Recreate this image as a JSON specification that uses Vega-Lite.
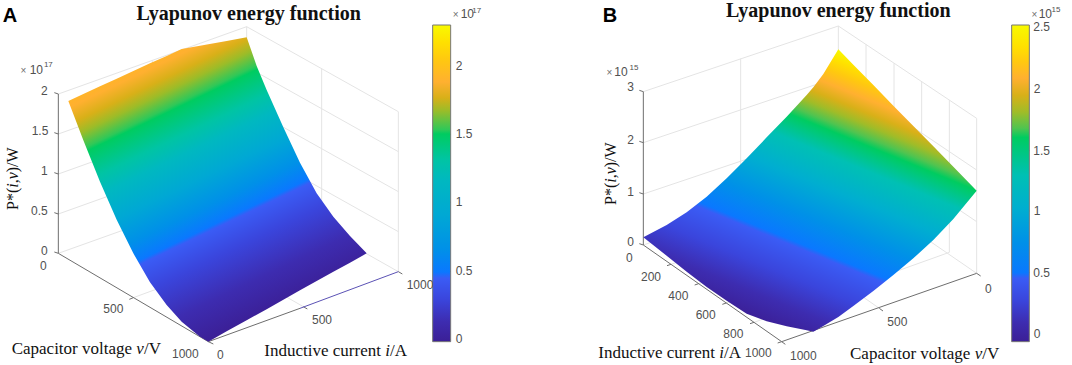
{"$schema":"https://vega.github.io/schema/vega-lite/v6.json","width":1072,"height":365,"padding":0,"autosize":{"type":"fit","contains":"padding"},"background":"white","view":{"stroke":null},
"config":{"text":{"font":"Liberation Sans"}},
"datasets":{
"grid":[
{"x":175,"y":282,"x2":740,"y2":80},{"x":175,"y":402,"x2":740,"y2":200},{"x":175,"y":522,"x2":740,"y2":320},{"x":175,"y":642,"x2":740,"y2":440},{"x":175,"y":760,"x2":740,"y2":558},
{"x":740,"y":80,"x2":1195,"y2":335},{"x":740,"y":200,"x2":1195,"y2":455},{"x":740,"y":320,"x2":1195,"y2":575},{"x":740,"y":440,"x2":1195,"y2":695},{"x":740,"y":558,"x2":1195,"y2":815},
{"x":740,"y":80,"x2":740,"y2":558},{"x":1195,"y":335,"x2":1195,"y2":815},{"x":965,"y":205,"x2":965,"y2":685},{"x":457,"y":181,"x2":457,"y2":660},{"x":400,"y":893,"x2":965,"y2":685},{"x":910,"y":920,"x2":457,"y2":660},
{"x":1930,"y":275,"x2":2515,"y2":78},{"x":1930,"y":428,"x2":2515,"y2":231},{"x":1930,"y":582,"x2":2515,"y2":385},{"x":1930,"y":735,"x2":2515,"y2":535},
{"x":2515,"y":78,"x2":2930,"y2":355},{"x":2515,"y":231,"x2":2930,"y2":510},{"x":2515,"y":385,"x2":2930,"y2":665},{"x":2515,"y":535,"x2":2930,"y2":820},
{"x":2515,"y":78,"x2":2515,"y2":535},{"x":2930,"y":355,"x2":2930,"y2":820},{"x":2222,"y":176,"x2":2222,"y2":635},{"x":2598,"y":133,"x2":2598,"y2":590},{"x":2682,"y":190,"x2":2682,"y2":647},{"x":2765,"y":245,"x2":2765,"y2":702},{"x":2848,"y":300,"x2":2848,"y2":757},
{"x":2013,"y":793,"x2":2598,"y2":590},{"x":2096,"y":851,"x2":2682,"y2":647},{"x":2179,"y":909,"x2":2765,"y2":702},{"x":2262,"y":967,"x2":2848,"y2":757},{"x":2638,"y":925,"x2":2222,"y2":635}
],
"axes":[
{"x":175,"y":282,"x2":175,"y2":760},{"x":175,"y":760,"x2":625,"y2":1025},{"x":625,"y":1025,"x2":900,"y2":925},
{"x":175,"y":282,"x2":163,"y2":278},{"x":175,"y":402,"x2":163,"y2":398},{"x":175,"y":522,"x2":163,"y2":518},{"x":175,"y":642,"x2":163,"y2":638},{"x":175,"y":760,"x2":163,"y2":756},
{"x":400,"y":893,"x2":388,"y2":898},{"x":625,"y":1025,"x2":640,"y2":1032},{"x":910,"y":920,"x2":922,"y2":927},{"x":1195,"y":815,"x2":1207,"y2":822},
{"x":1340,"y":198,"x2":1352,"y2":198},{"x":1340,"y":403,"x2":1352,"y2":403},{"x":1340,"y":607,"x2":1352,"y2":607},{"x":1340,"y":814,"x2":1352,"y2":814},{"x":1340,"y":1018,"x2":1352,"y2":1018},
{"x":1930,"y":275,"x2":1930,"y2":735},{"x":1930,"y":735,"x2":2345,"y2":1025},{"x":2345,"y":1025,"x2":2930,"y2":820},
{"x":1930,"y":275,"x2":1918,"y2":271},{"x":1930,"y":428,"x2":1918,"y2":424},{"x":1930,"y":582,"x2":1918,"y2":578},{"x":1930,"y":735,"x2":1918,"y2":731},
{"x":2013,"y":793,"x2":2001,"y2":797},{"x":2096,"y":851,"x2":2084,"y2":855},{"x":2179,"y":909,"x2":2167,"y2":913},{"x":2262,"y":967,"x2":2250,"y2":971},{"x":2345,"y":1025,"x2":2333,"y2":1029},
{"x":2345,"y":1025,"x2":2356,"y2":1033},{"x":2638,"y":925,"x2":2649,"y2":933},{"x":2930,"y":820,"x2":2942,"y2":828},
{"x":3076,"y":82,"x2":3088,"y2":82},{"x":3076,"y":267,"x2":3088,"y2":267},{"x":3076,"y":452,"x2":3088,"y2":452},{"x":3076,"y":633,"x2":3088,"y2":633},{"x":3076,"y":818,"x2":3088,"y2":818},{"x":3076,"y":1003,"x2":3088,"y2":1003}
],
"edgeA":[{"x":900,"y":925,"x2":1195,"y2":815}],
"surfaceA":[
{"x":205,"y":303,"y2":303},{"x":250,"y":282,"y2":421},{"x":300,"y":259,"y2":545},{"x":350,"y":236,"y2":659},{"x":400,"y":213,"y2":760},{"x":450,"y":190,"y2":847},{"x":500,"y":168,"y2":915},{"x":545,"y":147,"y2":965},{"x":600,"y":137,"y2":1010},{"x":625,"y":133,"y2":1025},{"x":680,"y":123,"y2":994},{"x":740,"y":112,"y2":961},{"x":770,"y":198,"y2":944},{"x":800,"y":270,"y2":928},{"x":850,"y":382,"y2":899},{"x":900,"y":488,"y2":871},{"x":950,"y":580,"y2":843},{"x":1000,"y":650,"y2":815},{"x":1050,"y":708,"y2":788},{"x":1100,"y":760,"y2":760}
],
"surfaceB":[
{"x":1930,"y":712,"y2":712},{"x":2000,"y":675,"y2":767},{"x":2060,"y":637,"y2":815},{"x":2120,"y":590,"y2":861},{"x":2180,"y":535,"y2":902},{"x":2240,"y":475,"y2":941},{"x":2300,"y":412,"y2":964},{"x":2360,"y":350,"y2":979},{"x":2420,"y":285,"y2":991},{"x":2440,"y":262,"y2":995},{"x":2470,"y":222,"y2":978},{"x":2515,"y":148,"y2":951},{"x":2560,"y":194,"y2":918},{"x":2620,"y":255,"y2":873},{"x":2680,"y":317,"y2":825},{"x":2740,"y":378,"y2":775},{"x":2800,"y":439,"y2":720},{"x":2860,"y":500,"y2":657},{"x":2930,"y":572,"y2":572}
],
"barA":[{"x":1298,"x2":1352,"y":75,"y2":1025}],
"barB":[{"x":3035,"x2":3088,"y":75,"y2":1025}],
"ticks":[
{"x":133,"y":272,"t":"2"},{"x":120,"y":392,"t":"1.5"},{"x":133,"y":512,"t":"1"},{"x":118,"y":632,"t":"0.5"},{"x":133,"y":752,"t":"0"},
{"x":130,"y":797,"t":"0"},{"x":340,"y":928,"t":"500"},{"x":556,"y":1062,"t":"1000"},{"x":661,"y":1066,"t":"0"},{"x":966,"y":960,"t":"500"},{"x":1260,"y":855,"t":"1000"},
{"x":1377,"y":198,"t":"2"},{"x":1392,"y":403,"t":"1.5"},{"x":1377,"y":607,"t":"1"},{"x":1392,"y":814,"t":"0.5"},{"x":1377,"y":1018,"t":"0"},
{"x":1892,"y":262,"t":"3"},{"x":1892,"y":420,"t":"2"},{"x":1892,"y":575,"t":"1"},{"x":1892,"y":725,"t":"0"},
{"x":1888,"y":775,"t":"0"},{"x":1953,"y":830,"t":"200"},{"x":2035,"y":888,"t":"400"},{"x":2117,"y":945,"t":"600"},{"x":2200,"y":1003,"t":"800"},{"x":2275,"y":1060,"t":"1000"},
{"x":2410,"y":1068,"t":"1000"},{"x":2692,"y":965,"t":"500"},{"x":2965,"y":866,"t":"0"},
{"x":3125,"y":82,"t":"2.5"},{"x":3111,"y":267,"t":"2"},{"x":3125,"y":452,"t":"1.5"},{"x":3111,"y":633,"t":"1"},{"x":3125,"y":818,"t":"0.5"},{"x":3111,"y":1003,"t":"0"}
],
"times":[{"x":70,"y":214,"t":"×"},{"x":1367,"y":46,"t":"×"},{"x":1828,"y":220,"t":"×"},{"x":3103,"y":46,"t":"×"}],
"exp10":[{"x":109,"y":210,"t":"10"},{"x":1402,"y":42,"t":"10"},{"x":1863,"y":215,"t":"10"},{"x":3136,"y":42,"t":"10"}],
"expPow":[{"x":145,"y":196,"t":"17"},{"x":1430,"y":33,"t":"17"},{"x":1902,"y":203,"t":"15"},{"x":3168,"y":31,"t":"15"}],
"titles":[{"x":746,"y":42,"t":"Lyapunov energy function"},{"x":2515,"y":32,"t":"Lyapunov energy function"}],
"letters":[{"x":30,"y":47,"t":"A"},{"x":1830,"y":47,"t":"B"}],
"labelsR":[{"x":35,"y":1047,"t":"Capacitor voltage"},{"x":432,"y":1047,"t":"/V"},{"x":793,"y":1054,"t":"Inductive current"},{"x":1170,"y":1054,"t":"/A"},{"x":1795,"y":1060,"t":"Inductive current"},{"x":2172,"y":1060,"t":"/A"},{"x":2550,"y":1062,"t":"Capacitor voltage"},{"x":2947,"y":1062,"t":"/V"}],
"labelsI":[{"x":409,"y":1047,"t":"v"},{"x":1156,"y":1054,"t":"i"},{"x":2158,"y":1060,"t":"i"},{"x":2924,"y":1062,"t":"v"}],
"ylabR":[{"x":40,"y":630,"t":"P*("},{"x":40,"y":550,"t":","},{"x":40,"y":517,"t":")/W"},{"x":1832,"y":615,"t":"P*("},{"x":1832,"y":535,"t":","},{"x":1832,"y":502,"t":")/W"}],
"ylabI":[{"x":40,"y":563,"t":"i"},{"x":40,"y":538,"t":"v"},{"x":1832,"y":548,"t":"i"},{"x":1832,"y":523,"t":"v"}]
},
"encoding":{
"x":{"field":"x","type":"quantitative","scale":{"domain":[0,3216]},"axis":null},
"y":{"field":"y","type":"quantitative","scale":{"domain":[1095,0]},"axis":null}
},
"layer":[
{"data":{"name":"grid"},"mark":{"type":"rule","color":"#e4e4e4","strokeWidth":1},"encoding":{"x2":{"field":"x2"},"y2":{"field":"y2"}}},
{"data":{"name":"axes"},"mark":{"type":"rule","color":"#6e6e6e","strokeWidth":1},"encoding":{"x2":{"field":"x2"},"y2":{"field":"y2"}}},
{"data":{"name":"edgeA"},"mark":{"type":"rule","color":"#5b52b5","strokeWidth":1},"encoding":{"x2":{"field":"x2"},"y2":{"field":"y2"}}},
{"data":{"name":"surfaceA"},"mark":{"type":"area","line":false,"color":{"gradient":"linear","x1":0.6864,"y1":0.8962,"x2":0.2964,"y2":0.0672,"stops":[
{"offset":0,"color":"#3b1f96"},{"offset":0.125,"color":"#3d2cb0"},{"offset":0.26,"color":"#3a45dc"},{"offset":0.355,"color":"#3a5cf5"},{"offset":0.37,"color":"#0a78ff"},{"offset":0.44,"color":"#0090e8"},{"offset":0.54,"color":"#00a8d4"},{"offset":0.645,"color":"#00b8c0"},{"offset":0.71,"color":"#00c4a4"},{"offset":0.806,"color":"#00cc60"},{"offset":0.82,"color":"#30c858"},{"offset":0.875,"color":"#9cbc28"},{"offset":0.92,"color":"#d8b018"},{"offset":0.975,"color":"#ffb030"},{"offset":1,"color":"#ffb428"}]}},"encoding":{"y2":{"field":"y2"}}},
{"data":{"name":"surfaceB"},"mark":{"type":"area","line":false,"color":{"gradient":"linear","x1":0.2886,"y1":0.9367,"x2":0.7119,"y2":0.0619,"stops":[
{"offset":0,"color":"#3b1f96"},{"offset":0.09,"color":"#3d2cb0"},{"offset":0.19,"color":"#3a45dc"},{"offset":0.295,"color":"#3a5cf5"},{"offset":0.312,"color":"#0a78ff"},{"offset":0.41,"color":"#0090e8"},{"offset":0.53,"color":"#00aed0"},{"offset":0.64,"color":"#00c0b4"},{"offset":0.723,"color":"#00cc60"},{"offset":0.75,"color":"#50c450"},{"offset":0.79,"color":"#a0bc28"},{"offset":0.83,"color":"#d8b018"},{"offset":0.875,"color":"#ffb030"},{"offset":0.92,"color":"#ffc810"},{"offset":0.96,"color":"#ffe000"},{"offset":1,"color":"#f8fa00"}]}},"encoding":{"y2":{"field":"y2"}}},
{"data":{"name":"barA"},"mark":{"type":"rect","stroke":"#777777","strokeWidth":1,"color":{"gradient":"linear","x1":0,"y1":1,"x2":0,"y2":0,"stops":[
{"offset":0,"color":"#3b1f96"},{"offset":0.063,"color":"#3d2cb0"},{"offset":0.133,"color":"#3a45dc"},{"offset":0.2,"color":"#3a5cf5"},{"offset":0.22,"color":"#0a78ff"},{"offset":0.29,"color":"#0090e8"},{"offset":0.4,"color":"#00a8d4"},{"offset":0.51,"color":"#00b8c0"},{"offset":0.574,"color":"#00c4a4"},{"offset":0.656,"color":"#00cc60"},{"offset":0.67,"color":"#30c858"},{"offset":0.73,"color":"#9cbc28"},{"offset":0.77,"color":"#d8b018"},{"offset":0.82,"color":"#ffb030"},{"offset":0.89,"color":"#ffc810"},{"offset":0.945,"color":"#ffe000"},{"offset":1,"color":"#f8fa00"}]}},"encoding":{"x2":{"field":"x2"},"y2":{"field":"y2"}}},
{"data":{"name":"barB"},"mark":{"type":"rect","stroke":"#777777","strokeWidth":1,"color":{"gradient":"linear","x1":0,"y1":1,"x2":0,"y2":0,"stops":[
{"offset":0,"color":"#3b1f96"},{"offset":0.06,"color":"#3d2cb0"},{"offset":0.13,"color":"#3a45dc"},{"offset":0.2,"color":"#3a5cf5"},{"offset":0.218,"color":"#0a78ff"},{"offset":0.313,"color":"#0090e8"},{"offset":0.42,"color":"#00aed0"},{"offset":0.525,"color":"#00c0b4"},{"offset":0.645,"color":"#00cc60"},{"offset":0.674,"color":"#50c450"},{"offset":0.725,"color":"#a0bc28"},{"offset":0.778,"color":"#d8b018"},{"offset":0.832,"color":"#ffb030"},{"offset":0.883,"color":"#ffc810"},{"offset":0.93,"color":"#ffe000"},{"offset":1,"color":"#f8fa00"}]}},"encoding":{"x2":{"field":"x2"},"y2":{"field":"y2"}}},
{"data":{"name":"ticks"},"mark":{"type":"text","font":"Liberation Sans","fontSize":12,"color":"#505050","align":"center","baseline":"middle"},"encoding":{"text":{"field":"t"}}},
{"data":{"name":"times"},"mark":{"type":"text","font":"Liberation Sans","fontSize":10,"color":"#707070","align":"center","baseline":"middle"},"encoding":{"text":{"field":"t"}}},
{"data":{"name":"exp10"},"mark":{"type":"text","font":"Liberation Sans","fontSize":12,"color":"#505050","align":"center","baseline":"middle"},"encoding":{"text":{"field":"t"}}},
{"data":{"name":"expPow"},"mark":{"type":"text","font":"Liberation Sans","fontSize":8,"color":"#505050","align":"center","baseline":"middle"},"encoding":{"text":{"field":"t"}}},
{"data":{"name":"titles"},"mark":{"type":"text","font":"Liberation Serif","fontWeight":"bold","fontSize":20,"color":"#111111","align":"center","baseline":"middle"},"encoding":{"text":{"field":"t"}}},
{"data":{"name":"letters"},"mark":{"type":"text","font":"Liberation Sans","fontWeight":"bold","fontSize":20,"color":"#000000","align":"center","baseline":"middle"},"encoding":{"text":{"field":"t"}}},
{"data":{"name":"labelsR"},"mark":{"type":"text","font":"Liberation Serif","fontSize":17,"color":"#111111","align":"left","baseline":"middle"},"encoding":{"text":{"field":"t"}}},
{"data":{"name":"labelsI"},"mark":{"type":"text","font":"Liberation Serif","fontStyle":"italic","fontSize":17,"color":"#111111","align":"left","baseline":"middle"},"encoding":{"text":{"field":"t"}}},
{"data":{"name":"ylabR"},"mark":{"type":"text","font":"Liberation Serif","fontSize":16,"angle":270,"color":"#111111","align":"left","baseline":"middle"},"encoding":{"text":{"field":"t"}}},
{"data":{"name":"ylabI"},"mark":{"type":"text","font":"Liberation Serif","fontStyle":"italic","fontSize":16,"angle":270,"color":"#111111","align":"left","baseline":"middle"},"encoding":{"text":{"field":"t"}}}
]}
